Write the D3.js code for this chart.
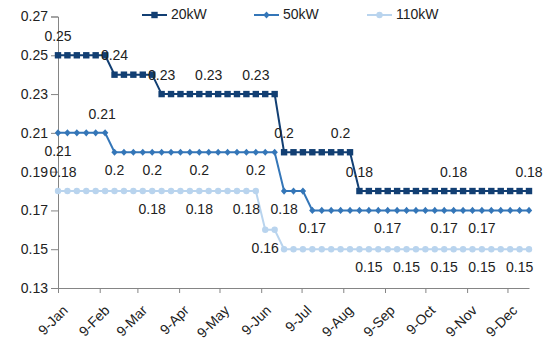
<!DOCTYPE html>
<html>
<head>
<meta charset="utf-8">
<script src="https://cdn.jsdelivr.net/npm/d3@7"></script>
<style>
  body { margin: 0; background: #fff; }
  text { font-family: "Liberation Sans", Arial, sans-serif; }
</style>
</head>
<body>
<svg id="chart" width="554" height="343"></svg>
<script>
// weekly tariff series, first point 1 Jan 2009
var startDate = new Date(2009, 0, 1);
var seriesNames = ["20kW", "50kW", "110kW"];
var values20 = [0.25, 0.25, 0.25, 0.25, 0.25, 0.25,
    0.24, 0.24, 0.24, 0.24, 0.24,
    0.23, 0.23, 0.23, 0.23, 0.23, 0.23, 0.23, 0.23, 0.23, 0.23, 0.23, 0.23, 0.23,
    0.20, 0.20, 0.20, 0.20, 0.20, 0.20, 0.20, 0.20,
    0.18, 0.18, 0.18, 0.18, 0.18, 0.18, 0.18, 0.18, 0.18, 0.18, 0.18, 0.18, 0.18, 0.18, 0.18, 0.18, 0.18, 0.18, 0.18];
var values50 = [0.21, 0.21, 0.21, 0.21, 0.21, 0.21,
    0.20, 0.20, 0.20, 0.20, 0.20, 0.20, 0.20, 0.20, 0.20, 0.20, 0.20, 0.20, 0.20, 0.20, 0.20, 0.20, 0.20, 0.20,
    0.18, 0.18, 0.18,
    0.17, 0.17, 0.17, 0.17, 0.17, 0.17, 0.17, 0.17, 0.17, 0.17, 0.17, 0.17, 0.17, 0.17, 0.17, 0.17, 0.17, 0.17, 0.17, 0.17, 0.17, 0.17, 0.17, 0.17];
var values110 = [0.18, 0.18, 0.18, 0.18, 0.18, 0.18, 0.18, 0.18, 0.18, 0.18, 0.18, 0.18, 0.18, 0.18, 0.18, 0.18, 0.18, 0.18, 0.18, 0.18, 0.18, 0.18,
    0.16, 0.16,
    0.15, 0.15, 0.15, 0.15, 0.15, 0.15, 0.15, 0.15, 0.15, 0.15, 0.15, 0.15, 0.15, 0.15, 0.15, 0.15, 0.15, 0.15, 0.15, 0.15, 0.15, 0.15, 0.15, 0.15, 0.15, 0.15, 0.15];

// which points carry a value label: [index, "up"/"down"]
var labels20 = [[0, "up"], [6, "up"], [11, "up"], [16, "up"], [21, "up"], [24, "up"], [30, "up"], [32, "up"], [42, "up"], [50, "up"]];
var labels50 = [[0, "down"], [5, "up"], [6, "down"], [10, "down"], [15, "down"], [21, "down"], [24, "down"], [27, "down"], [35, "down"], [41, "down"], [45, "down"]];
var labels110 = [[0, "up"], [10, "down"], [15, "down"], [20, "down"], [22, "down"], [33, "down"], [37, "down"], [41, "down"], [45, "down"], [49, "down"]];

var yTicks = [0.13, 0.15, 0.17, 0.19, 0.21, 0.23, 0.25, 0.27];
var monthLabels = ["9-Jan", "9-Feb", "9-Mar", "9-Apr", "9-May", "9-Jun", "9-Jul", "9-Aug", "9-Sep", "9-Oct", "9-Nov", "9-Dec"];

var colors = ["#123f73", "#3476b8", "#b9d4ee"];
var markers = ["square", "diamond", "circle"];

var svg = d3.select("#chart");

var dates = values20.map(function (v, i) { return d3.timeDay.offset(startDate, 7 * i); });

var x = d3.scaleTime()
    .domain([dates[0], dates[dates.length - 1]])
    .range([58, 529]);

var y = d3.scaleLinear()
    .domain([0.13, 0.27])
    .range([288, 16.5]);

// y axis
var yAxis = svg.append("g")
    .attr("transform", "translate(58,0)")
    .call(d3.axisLeft(y).tickValues(yTicks).tickSize(7).tickPadding(3).tickFormat(d3.format(".2f")));
yAxis.select(".domain").attr("stroke", "#858585");
yAxis.selectAll(".tick line").attr("stroke", "#858585");
yAxis.selectAll("text").attr("font-size", 14).attr("fill", "#222");

// x axis with month starts
var monthTicks = d3.range(12).map(function (m) { return new Date(2009, m, 1); });
var xAxis = svg.append("g")
    .attr("transform", "translate(0,288)")
    .call(d3.axisBottom(x).tickValues(monthTicks).tickSize(5).tickSizeOuter(0)
        .tickFormat(function (d, i) { return monthLabels[i]; }));
xAxis.select(".domain").attr("stroke", "#858585");
xAxis.selectAll(".tick line").attr("stroke", "#858585");
xAxis.selectAll("text")
    .attr("font-size", 14)
    .attr("fill", "#222")
    .attr("text-anchor", "end")
    .attr("dy", null)
    .attr("dominant-baseline", "middle")
    .attr("transform", "translate(2,15) rotate(-45)");

var allValues = [values20, values50, values110];
var allLabels = [labels20, labels50, labels110];

var line = d3.line()
    .x(function (d) { return x(d.date); })
    .y(function (d) { return y(d.value); });

function drawMarker(sel, kind, color) {
    if (kind == "square") {
        sel.append("rect").attr("x", -3.2).attr("y", -3.2).attr("width", 6.4).attr("height", 6.4).attr("fill", color);
    } else if (kind == "diamond") {
        sel.append("path").attr("d", "M0,-3.6L3.2,0L0,3.6L-3.2,0Z").attr("fill", color);
    } else {
        sel.append("circle").attr("r", 3.2).attr("fill", color);
    }
}

// lightest series drawn first
[2, 1, 0].forEach(function (s) {
    var pts = allValues[s].map(function (v, i) { return { date: dates[i], value: v }; });
    svg.append("path")
        .datum(pts)
        .attr("d", line)
        .attr("fill", "none")
        .attr("stroke", colors[s])
        .attr("stroke-width", 2);
    svg.append("g").selectAll("g")
        .data(pts)
        .enter()
        .append("g")
        .attr("transform", function (d) { return "translate(" + x(d.date) + "," + y(d.value) + ")"; })
        .each(function () { drawMarker(d3.select(this), markers[s], colors[s]); });
});

// value labels
var fmt = d3.format("~g");
[0, 1, 2].forEach(function (s) {
    svg.append("g").selectAll("text")
        .data(allLabels[s])
        .enter()
        .append("text")
        .attr("x", function (d) {
            var shift = 0;
            if (s == 1 && d[0] == 5) shift = -3;
            if (s == 2 && d[0] == 0) shift = 5;
            return x(dates[d[0]]) + shift;
        })
        .attr("y", function (d) { return y(allValues[s][d[0]]) + (d[1] == "up" ? -18 : 19); })
        .attr("text-anchor", "middle")
        .attr("dominant-baseline", "middle")
        .attr("font-size", 14)
        .attr("fill", "#222")
        .text(function (d) { return fmt(allValues[s][d[0]]); });
});

// legend
var legendX = [142, 254, 367];
seriesNames.forEach(function (name, s) {
    var g = svg.append("g").attr("transform", "translate(" + legendX[s] + ",15)");
    g.append("line").attr("x1", 0).attr("x2", 25).attr("stroke", colors[s]).attr("stroke-width", 2);
    drawMarker(g.append("g").attr("transform", "translate(12.5,0)"), markers[s], colors[s]);
    g.append("text")
        .attr("x", 29)
        .attr("dominant-baseline", "middle")
        .attr("font-size", 14)
        .attr("fill", "#222")
        .text(name);
});
</script>
</body>
</html>
